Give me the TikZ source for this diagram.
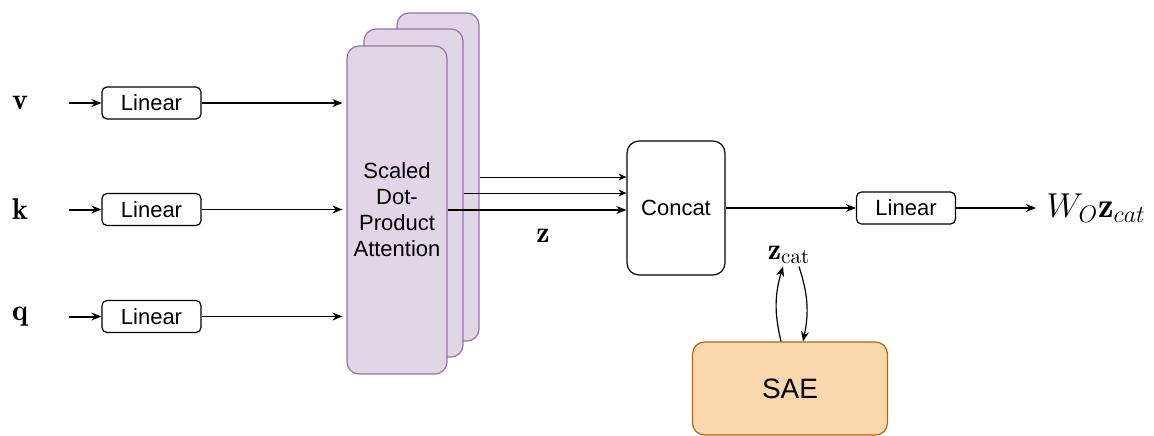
\documentclass[tikz,border=0pt]{standalone}
\usepackage{amsmath}
\usepackage{fontspec}
\newfontfamily\arialfont{Liberation Sans}
\usepackage{tikz}
\usetikzlibrary{arrows.meta}

\definecolor{attfill}{HTML}{E1D5E7}
\definecolor{attline}{HTML}{9673A6}
\definecolor{saefill}{HTML}{FAD7AC}
\definecolor{saeline}{HTML}{B46504}

\begin{document}
\begin{tikzpicture}[x=0.5pt,y=-0.5pt,line width=0.6pt,>={Stealth[length=5pt,width=4pt]},
lin/.style={draw,rounded corners=2.5pt,minimum width=49.5pt,minimum height=16pt,inner sep=0pt,font=\arialfont\fontsize{11}{13}\selectfont},
head/.style={draw=attline,fill=attfill,rounded corners=6pt,minimum height=164pt,inner sep=0pt},
inp/.style={font=\fontsize{15}{17}\selectfont},
feed/.style={->,line width=1pt,shorten <=17pt}]
\useasboundingbox (0,0) rectangle (1154,435);
% stacked attention heads, back to front
\node[head,minimum width=41pt] (head3) at (438,177) {};
\node[head,minimum width=49.5pt] (head2) at (413.5,193) {};
\node[head,minimum width=50pt,align=center,font=\arialfont\fontsize{11}{13}\selectfont] (head1) at (397,210)
   {Scaled\\Dot-\\Product\\Attention};
% inputs and their projections
\foreach \n/\y in {v/103,k/209.5,q/316.5} {
   \node[inp] (\n) at (20,\y) {$\mathbf{\n}$};
   \node[lin] (lin\n) at (151.5,\y) {Linear};
   \draw[feed] (\n) -- (lin\n);
   \draw[->] (lin\n) -- ([xshift=-2pt]lin\n -| head1.west);
}
\node[draw,rounded corners=6pt,minimum width=49pt,minimum height=67pt,inner sep=0pt,font=\arialfont\fontsize{11}{13}\selectfont] (concat) at (676,208) {Concat};
\draw[->,line width=0.5pt,>={Stealth[length=4pt,width=3.5pt]}] (head3.east) -- (head3.east -| concat.west);
\draw[->,line width=0.5pt,>={Stealth[length=4pt,width=3.5pt]}] (head2.east) -- (head2.east -| concat.west);
\draw[->,line width=0.8pt] (head1.east) -- (head1.east -| concat.west);
\node[inp] (z) at (543,236) {$\mathbf{z}$};
% output projection
\node[lin] (linout) at (906,208) {Linear};
\node[anchor=west,font=\fontsize{17.5}{20}\selectfont,inner sep=0pt] (out) at (1046,208) {$W_O\mathbf{z}_{cat}$};
\draw[->] (concat) -- (linout);
\draw[->] (linout) -- ([xshift=-5pt]out.west);
% sparse autoencoder on the concatenated heads
\node[inp,inner sep=1pt] (zcat) at (789,255) {$\mathbf{z}_{\mathrm{cat}}$};
\node[draw=saeline,fill=saefill,rounded corners=6pt,minimum width=97.5pt,minimum height=46.5pt,inner sep=0pt,font=\arialfont\fontsize{14}{16}\selectfont] (sae) at (790,388.5) {SAE};
\draw[->] ([xshift=-4.5pt]sae.north) to[bend left=15] ([xshift=-3pt]zcat.south);
\draw[->] ([xshift=5pt]zcat.south) to[bend left=15] ([xshift=6.5pt]sae.north);
\end{tikzpicture}
\end{document}
